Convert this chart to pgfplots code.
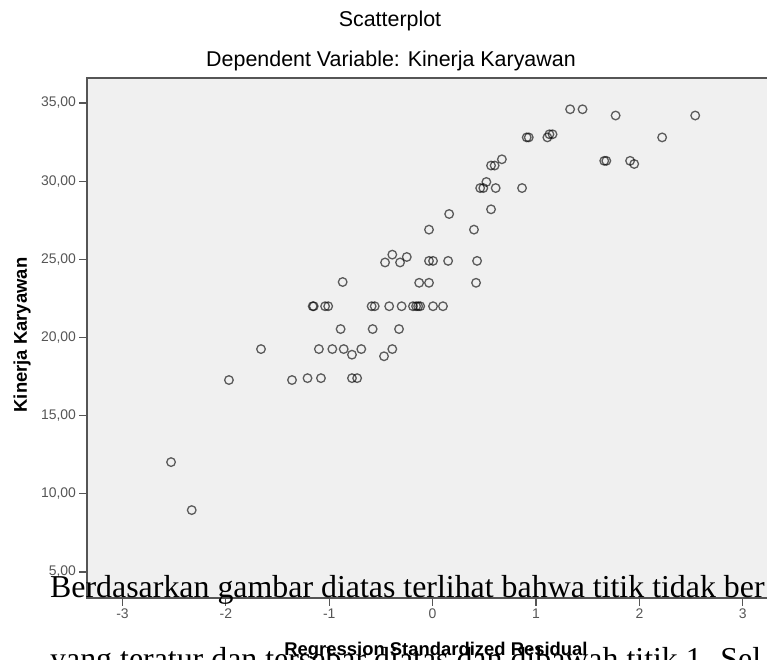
\documentclass[border=0pt]{standalone}
\usepackage{fontspec}
\setmainfont{Liberation Serif}
\newfontfamily\arial{Liberation Sans}
\usepackage{pgfplots}
\pgfplotsset{compat=1.18}
\definecolor{plotbg}{HTML}{F0F0F0}
\definecolor{framec}{HTML}{555555}
\definecolor{ticklab}{HTML}{555555}
\begin{document}
\begin{tikzpicture}
\begin{axis}[
  at={(0,0)}, anchor=south west,
  scale only axis, width=693bp, height=520bp,
  xmin=-3.343, xmax=3.36, ymin=3.337, ymax=36.6,
  axis background/.style={fill=plotbg},
  axis line style={draw=framec, line width=1.2bp},
  xtick={-3,-2,-1,0,1,2,3},
  xticklabels={-3,-2,-1,0,1,2,3},
  ytick={5,10,15,20,25,30,35},
  yticklabels={{5,00},{10,00},{15,00},{20,00},{25,00},{30,00},{35,00}},
  tick align=outside, major tick length=7.5bp,
  tick style={draw=framec, line width=1.2bp},
  xtick pos=left, ytick pos=left,
  tick label style={font=\arial\fontsize{14}{16}\selectfont, text=ticklab},
]
\addplot[only marks, mark=o, mark size=4.3bp, draw=black, draw opacity=0.62, line width=1.3bp]
coordinates {
(1.33,34.6) (1.45,34.6) (1.77,34.2) (2.54,34.2)
(2.22,32.8) (0.91,32.8) (0.93,32.8)
(1.11,32.8) (1.13,33.0) (1.16,33.0)
(1.66,31.3) (1.68,31.3) (1.91,31.3) (1.95,31.1)
(0.67,31.4) (0.565,31.0) (0.60,31.0)
(0.46,29.56) (0.49,29.56) (0.52,29.95) (0.61,29.56) (0.865,29.56)
(0.565,28.2) (0.16,27.9) (-0.035,26.9) (0.40,26.9)
(-0.46,24.8) (-0.39,25.3) (-0.315,24.8) (-0.25,25.15)
(-0.035,24.9) (0.004,24.9) (0.15,24.9) (0.43,24.9)
(-0.87,23.55) (-0.13,23.5) (-0.035,23.5) (0.42,23.5)
(-1.16,22.0) (-1.15,22.0) (-1.04,22.0) (-1.01,22.0) (-0.59,22.0) (-0.56,22.0)
(-0.42,22.0) (-0.30,22.0) (-0.19,22.0) (-0.16,22.0) (-0.14,22.0) (-0.12,22.0)
(0.004,22.0) (0.10,22.0)
(-0.89,20.54) (-0.58,20.54) (-0.325,20.54)
(-1.66,19.26) (-1.10,19.26) (-0.97,19.26) (-0.86,19.26) (-0.69,19.26) (-0.39,19.26)
(-0.78,18.9) (-0.47,18.8)
(-1.97,17.28) (-1.36,17.28) (-1.21,17.4) (-1.08,17.4) (-0.78,17.4) (-0.73,17.4)
(-2.53,12.03) (-2.33,8.96)
};
\end{axis}
\node[anchor=base west, inner sep=0, font=\fontsize{32}{36}\selectfont] at (-37bp,1bp) {Berdasarkan gambar diatas terlihat bahwa titik tidak ber};
\node[anchor=base west, inner sep=0, font=\fontsize{32}{36}\selectfont] at (-37bp,-71bp) {yang teratur dan tersebar diatas dan dibawah titik 1. Sel};
\node[font=\arial\fontsize{21.5}{24}\selectfont] at (303bp,577bp) {Scatterplot};
\node[font=\arial\fontsize{21.5}{24}\selectfont] at (304bp,537bp) {Dependent Variable: Kinerja Karyawan};
\node[rotate=90, font=\arial\bfseries\fontsize{18.5}{20}\selectfont] at (-65bp,263bp) {Kinerja Karyawan};
\node[font=\arial\bfseries\fontsize{18.5}{20}\selectfont] at (349bp,-53bp) {Regression Standardized Residual};
\pgfresetboundingbox
\useasboundingbox (-87bp,-62bp) rectangle (680bp,598bp);
\end{tikzpicture}
\end{document}
